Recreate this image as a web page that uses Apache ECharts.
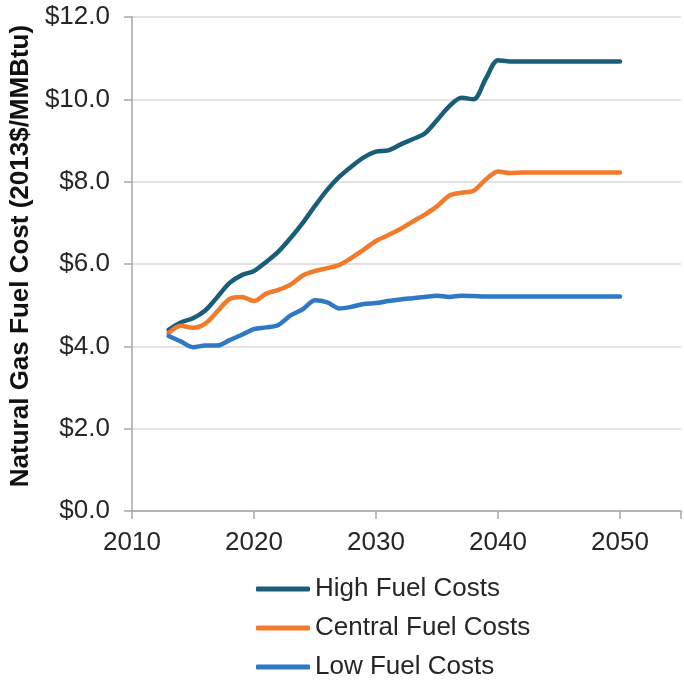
<!DOCTYPE html>
<html>
<head>
<meta charset="utf-8">
<script src="https://cdn.jsdelivr.net/npm/echarts@6/dist/echarts.min.js"></script>
<style>
  html, body { margin: 0; padding: 0; background: #fff; }
  #chart { width: 684px; height: 682px; }
</style>
</head>
<body>
<div id="chart"></div>
<script>
const years = [2013, 2014, 2015, 2016, 2017, 2018, 2019, 2020, 2021, 2022, 2023, 2024, 2025,
  2026, 2027, 2028, 2029, 2030, 2031, 2032, 2033, 2034, 2035, 2036, 2037, 2038, 2039, 2040,
  2041, 2042, 2043, 2044, 2045, 2046, 2047, 2048, 2049, 2050]

const highCosts = [4.40, 4.58, 4.68, 4.87, 5.20, 5.54, 5.73, 5.83, 6.05, 6.30, 6.63, 7.00, 7.41,
  7.80, 8.12, 8.37, 8.59, 8.73, 8.76, 8.90, 9.03, 9.17, 9.49, 9.83, 10.04, 10.00, 10.50, 10.95,
  10.92, 10.92, 10.92, 10.92, 10.92, 10.92, 10.92, 10.92, 10.92, 10.92]

const centralCosts = [4.32, 4.50, 4.45, 4.55, 4.85, 5.15, 5.20, 5.10, 5.28, 5.37, 5.50, 5.72, 5.83,
  5.90, 5.98, 6.15, 6.35, 6.56, 6.70, 6.85, 7.03, 7.20, 7.40, 7.66, 7.73, 7.78, 8.05, 8.25,
  8.21, 8.22, 8.22, 8.22, 8.22, 8.22, 8.22, 8.22, 8.22, 8.22]

const lowCosts = [4.25, 4.12, 3.98, 4.02, 4.02, 4.15, 4.28, 4.42, 4.46, 4.52, 4.75, 4.90, 5.12,
  5.07, 4.92, 4.96, 5.03, 5.05, 5.10, 5.14, 5.17, 5.20, 5.23, 5.20, 5.23, 5.22, 5.21, 5.21,
  5.21, 5.21, 5.21, 5.21, 5.21, 5.21, 5.21, 5.21, 5.21, 5.21]

const seriesNames = ['High Fuel Costs', 'Central Fuel Costs', 'Low Fuel Costs']
const seriesColors = ['#1a5d78', '#f27a2b', '#2f78c6']

const pairs = (vals) => years.map((y, i) => [y, vals[i]])

const chart = echarts.init(document.getElementById('chart'))

const font = 'Liberation Sans, Arial, sans-serif'

const makeSeries = (name, vals, color) => ({
  name,
  type: 'line',
  data: pairs(vals),
  smooth: 0.3,
  symbol: 'none',
  lineStyle: { width: 4.5, color, cap: 'round', join: 'round' },
  itemStyle: { color }
})

chart.setOption({
  animation: false,
  textStyle: { fontFamily: font },
  grid: { left: 130, right: -3, top: 17, bottom: 171 },
  legend: {
    orient: 'vertical',
    left: 256,
    top: 576,
    height: 130,
    padding: 0,
    itemWidth: 54,
    itemHeight: 5,
    itemGap: 13,
    icon: 'roundRect',
    textStyle: { fontFamily: font, fontSize: 26, color: '#262626' },
    data: seriesNames
  },
  xAxis: {
    type: 'value',
    min: 2010,
    max: 2055,
    interval: 10,
    axisLine: { show: true, lineStyle: { color: '#a6a6a6', width: 1.5 } },
    axisTick: { show: true, length: 8, lineStyle: { color: '#a6a6a6', width: 1.5 } },
    axisLabel: {
      color: '#262626', fontSize: 26, margin: 19, fontFamily: font,
      formatter: (v) => (v <= 2050 ? String(v) : '')
    },
    splitLine: { show: false }
  },
  yAxis: {
    type: 'value',
    min: 0,
    max: 12,
    interval: 2,
    name: 'Natural Gas Fuel Cost (2013$/MMBtu)',
    nameLocation: 'middle',
    nameGap: 95,
    nameTextStyle: {
      fontFamily: font, fontSize: 26, fontWeight: 'bold', color: '#111',
      padding: [0, 0, 0, 16]
    },
    axisLine: { show: true, lineStyle: { color: '#a6a6a6', width: 1.5 } },
    axisTick: { show: true, length: 8, lineStyle: { color: '#a6a6a6', width: 1.5 } },
    axisLabel: {
      color: '#262626', fontSize: 26, margin: 22, fontFamily: font,
      formatter: (v) => '$' + v.toFixed(1)
    },
    splitLine: { show: true, lineStyle: { color: '#d9d9d9', width: 1.5 } }
  },
  series: [
    makeSeries(seriesNames[0], highCosts, seriesColors[0]),
    makeSeries(seriesNames[1], centralCosts, seriesColors[1]),
    makeSeries(seriesNames[2], lowCosts, seriesColors[2])
  ]
})
</script>
</body>
</html>
